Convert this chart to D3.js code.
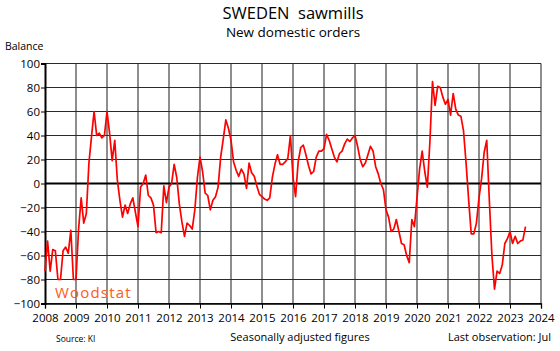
<!DOCTYPE html>
<meta charset="utf-8">
<script src="https://d3js.org/d3.v7.js"></script>
<style>
  body { margin: 0; background: #fff; }
  text { font-family: "Open Sans", "Noto Sans", sans-serif; }
</style>
<div id="chart"></div>
<script>

// monthly balance, new domestic orders, Jan 2008 .. Jul 2023
var y2008 = [-73, -48, -73, -55, -56, -80, -80, -56, -53, -58, -39, -80];
var y2009 = [-80, -38, -12, -33, -25, 17, 39, 60, 40, 42, 38, 40];
var y2010 = [60, 42, 19, 36, 3, -14, -28, -18, -25, -17, -12, -24];
var y2011 = [-36, -3, 0, 7, -10, -12, -18, -41, -40, -41, -2, -16];
var y2012 = [-3, 0, 16, 5, -17, -32, -44, -33, -35, -38, -22, 5];
var y2013 = [22, 10, -8, -10, -22, -14, -11, -3, 22, 37, 53, 46];
var y2014 = [36, 18, 11, 6, 12, 8, -4, 17, 9, 6, -2, -9];
var y2015 = [-11, -13, -14, -12, 5, 16, 24, 16, 16, 18, 21, 40];
var y2016 = [5, -11, 18, 30, 32, 24, 15, 8, 10, 22, 27, 27];
var y2017 = [29, 41, 36, 29, 22, 18, 25, 27, 33, 37, 35, 38];
var y2018 = [40, 31, 20, 14, 17, 24, 31, 27, 14, 8, 0, -5];
var y2019 = [-22, -28, -40, -38, -30, -40, -50, -51, -60, -66, -30, -36];
var y2020 = [-12, 12, 27, 10, -3, 35, 85, 65, 81, 80, 72, 66];
var y2021 = [70, 57, 75, 62, 57, 56, 44, 17, -14, -42, -42, -33];
var y2022 = [-12, 4, 26, 36, -14, -60, -88, -73, -75, -68, -50, -46];
var y2023 = [-40, -50, -44, -50, -48, -47, -36];

var xTicks = d3.range(2008, 2025);
var yTicks = d3.range(-100, 101, 20);

var series = [y2008, y2009, y2010, y2011, y2012, y2013, y2014, y2015,
              y2016, y2017, y2018, y2019, y2020, y2021, y2022, y2023];
var data = [];
series.forEach(function(arr, i) {
  arr.forEach(function(v, m) {
    data.push({t: 2008 + i + m / 12, v: v});
  });
});

var width = 560, height = 351;
var margin = {top: 63.5, right: 19, bottom: 47.5, left: 45};

var svg = d3.select("#chart")
  .append("svg")
    .attr("width", width)
    .attr("height", height);

var x = d3.scaleLinear().domain([2008, 2024]).range([margin.left, width - margin.right]);
var y = d3.scaleLinear().domain([-100, 100]).range([height - margin.bottom, margin.top]);

// vertical grid
svg.append("g")
  .selectAll("line")
  .data(xTicks.slice(1))
  .join("line")
    .attr("x1", d => x(d)).attr("x2", d => x(d))
    .attr("y1", y(100)).attr("y2", y(-100))
    .attr("stroke", "#7a7a7a")
    .attr("stroke-width", 1.7);

// horizontal grid
svg.append("g")
  .selectAll("line")
  .data(yTicks)
  .join("line")
    .attr("x1", x(2008)).attr("x2", x(2024))
    .attr("y1", d => y(d)).attr("y2", d => y(d))
    .attr("stroke", d => d === 0 ? "#000" : "#2a2a2a")
    .attr("stroke-width", d => d === 0 ? 1.9 : 1);

// axes
var xAxis = d3.axisBottom(x).tickValues(xTicks).tickFormat(d3.format("d")).tickSize(5);
svg.append("g")
  .attr("transform", "translate(0," + y(-100) + ")")
  .call(xAxis)
  .call(g => g.select(".domain").attr("stroke", "#000").attr("stroke-width", 1.3))
  .call(g => g.selectAll("text").attr("font-size", 11.5).attr("fill", "#000").attr("dy", "0.9em"));

var yAxis = d3.axisLeft(y).tickValues(yTicks).tickSize(4);
svg.append("g")
  .attr("transform", "translate(" + x(2008) + ",0)")
  .call(yAxis)
  .call(g => g.select(".domain").attr("stroke", "#000").attr("stroke-width", 2))
  .call(g => g.selectAll("text").attr("font-size", 11.5).attr("fill", "#000").attr("x", -5));

// the series
svg.append("path")
  .datum(data)
  .attr("fill", "none")
  .attr("stroke", "#ff0000")
  .attr("stroke-width", 1.7)
  .attr("stroke-linejoin", "round")
  .attr("d", d3.line().x(d => x(d.t)).y(d => y(d.v)));

// titles
svg.append("text")
  .attr("x", 293).attr("y", 19)
  .attr("text-anchor", "middle")
  .attr("font-size", 16.5)
  .style("white-space", "pre")
  .text("SWEDEN  sawmills");
svg.append("text")
  .attr("x", 293).attr("y", 37)
  .attr("text-anchor", "middle")
  .attr("font-size", 13.5)
  .text("New domestic orders");
svg.append("text")
  .attr("x", 5).attr("y", 50)
  .attr("font-size", 10.5)
  .text("Balance");

// footer
svg.append("text")
  .attr("x", 56).attr("y", 342)
  .attr("font-size", 8.5)
  .text("Source: KI");
svg.append("text")
  .attr("x", 300).attr("y", 341)
  .attr("text-anchor", "middle")
  .attr("font-size", 11)
  .text("Seasonally adjusted figures");
svg.append("text")
  .attr("x", 551).attr("y", 341)
  .attr("text-anchor", "end")
  .attr("font-size", 11)
  .text("Last observation: Jul");

// logo
svg.append("text")
  .attr("x", 55).attr("y", 298)
  .attr("font-size", 15)
  .attr("letter-spacing", 1.2)
  .attr("fill", "#ff5a14")
  .text("Woodstat");

</script>
